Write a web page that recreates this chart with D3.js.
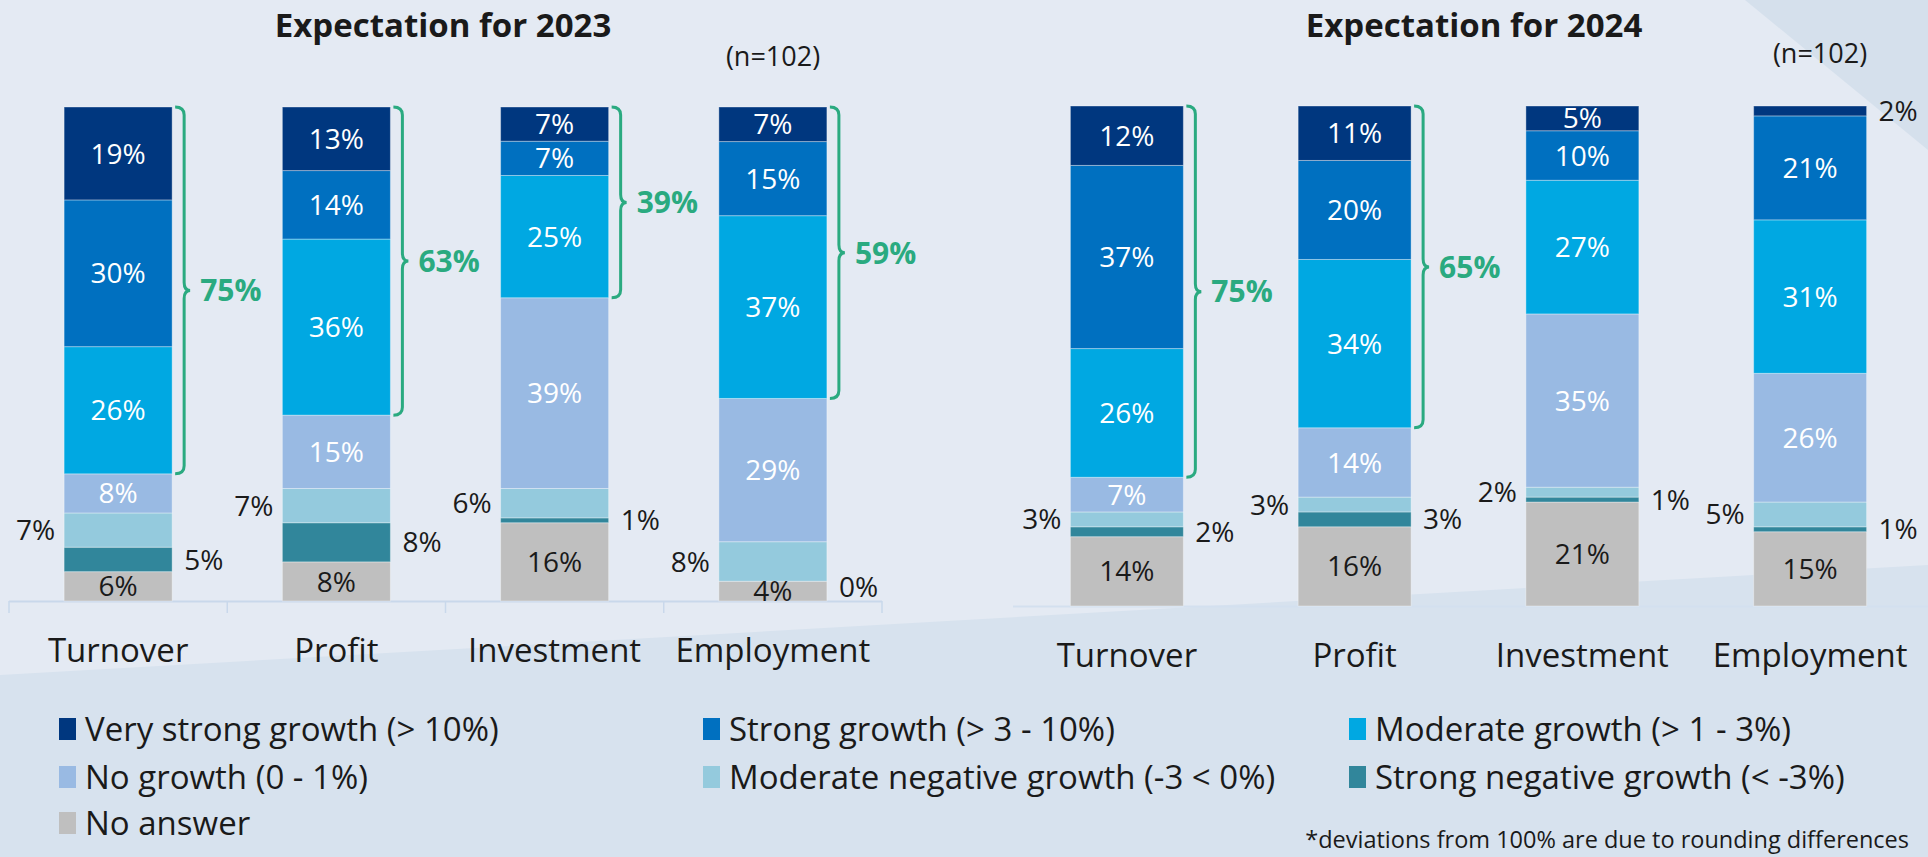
<!DOCTYPE html>
<html lang="en">

<head>
	<meta charset="utf-8">
	<title>Expectation for 2023 / 2024</title>
	<script src="https://d3js.org/d3.v7.min.js"></script>
	<style>
		body {
			margin: 0;
			background: #e4eaf3;
			font-family: "Open Sans", "Noto Sans", sans-serif;
		}

		svg text {
			font-family: "Open Sans", "Noto Sans", sans-serif;
		}
	</style>
</head>

<body>
	<script>
		// chart data
		var categories = ["Turnover", "Profit", "Investment", "Employment"];

		var seriesNames = [
			"Very strong growth (> 10%)",
			"Strong growth (> 3 - 10%)",
			"Moderate growth (> 1 - 3%)",
			"No growth (0 - 1%)",
			"Moderate negative growth (-3 < 0%)",
			"Strong negative growth (< -3%)",
			"No answer"
		];
		var seriesKeys = ["veryStrong", "strong", "moderate", "noGrowth", "modNeg", "strongNeg", "noAnswer"];
		var seriesColors = ["#00377f", "#0070c0", "#00a8e2", "#99bae3", "#94cadd", "#31869b", "#bfbfbf"];

		// values per category (Turnover, Profit, Investment, Employment)
		var veryStrong2023 = [19, 13, 7, 7];
		var strong2023 = [30, 14, 7, 15];
		var moderate2023 = [26, 36, 25, 37];
		var noGrowth2023 = [8, 15, 39, 29];
		var modNeg2023 = [7, 7, 6, 8];
		var strongNeg2023 = [5, 8, 1, 0];
		var noAnswer2023 = [6, 8, 16, 4];
		var growthTotal2023 = [75, 63, 39, 59];

		var veryStrong2024 = [12, 11, 5, 2];
		var strong2024 = [37, 20, 10, 21];
		var moderate2024 = [26, 34, 27, 31];
		var noGrowth2024 = [7, 14, 35, 26];
		var modNeg2024 = [3, 3, 2, 5];
		var strongNeg2024 = [2, 3, 1, 1];
		var noAnswer2024 = [14, 16, 21, 15];
		var growthTotal2024 = [75, 65, null, null];

		var green = "#2aaa80";

		function buildRows(lists) {
			return categories.map(function (c, i) {
				var row = { category: c };
				seriesKeys.forEach(function (k, j) {
					row[k] = lists[j][i];
				});
				return row;
			});
		}

		var rows2023 = buildRows([veryStrong2023, strong2023, moderate2023, noGrowth2023, modNeg2023, strongNeg2023, noAnswer2023]);
		var rows2024 = buildRows([veryStrong2024, strong2024, moderate2024, noGrowth2024, modNeg2024, strongNeg2024, noAnswer2024]);

		var W = 1928, H = 857;

		var svg = d3.select("body")
			.append("svg")
			.attr("width", W)
			.attr("height", H);

		// background shapes
		svg.append("rect").attr("width", W).attr("height", H).attr("fill", "#e4eaf3");
		svg.append("path")
			.attr("d", "M0,675 L1928,565 L1928,857 L0,857 Z")
			.attr("fill", "#d7e2ee");
		svg.append("path")
			.attr("d", "M1745,0 L1928,0 L1928,150 Z")
			.attr("fill", "#d5e0ec");

		// stack order: bottom (no answer) to top (very strong growth)
		var stack = d3.stack()
			.keys(seriesKeys.slice().reverse())
			.offset(d3.stackOffsetExpand);

		function drawPanel(opts) {
			var g = svg.append("g");
			var layers = stack(opts.rows);

			var x = d3.scaleBand()
				.domain(categories)
				.range(opts.xRange)
				.paddingInner(opts.pad)
				.paddingOuter(opts.pad / 2);

			var y = d3.scaleLinear()
				.domain([0, 1])
				.range([opts.bottom, opts.top]);

			// baseline axis
			g.append("line")
				.attr("x1", opts.xRange[0])
				.attr("x2", opts.lineEnd)
				.attr("y1", opts.bottom + 0.5)
				.attr("y2", opts.bottom + 0.5)
				.attr("stroke", opts.lineColor)
				.attr("stroke-width", 2);

			if (opts.ticks) {
				var step = x.step();
				d3.range(categories.length + 1).forEach(function (i) {
					var tx = opts.xRange[0] + i * step;
					g.append("line")
						.attr("x1", tx).attr("x2", tx)
						.attr("y1", opts.bottom).attr("y2", opts.bottom + 12)
						.attr("stroke", opts.lineColor)
						.attr("stroke-width", 1.5);
				});
			}

			// segments
			var layerG = g.selectAll(".layer")
				.data(layers)
				.enter()
				.append("g")
				.attr("fill", function (d) {
					return seriesColors[seriesKeys.indexOf(d.key)];
				});

			layerG.selectAll("rect")
				.data(function (d) { return d; })
				.enter()
				.append("rect")
				.attr("x", function (d) { return x(d.data.category); })
				.attr("width", x.bandwidth())
				.attr("y", function (d) { return y(d[1]); })
				.attr("height", function (d) { return y(d[0]) - y(d[1]); })
				.attr("stroke", "rgba(255,255,255,0.35)")
				.attr("stroke-width", 1);

			// value labels
			layers.forEach(function (layer) {
				var key = layer.key;
				layer.forEach(function (d) {
					var v = d.data[key];
					var cy = (y(d[0]) + y(d[1])) / 2;
					var left = x(d.data.category);
					var right = left + x.bandwidth();
					var tx, anchor, fill;
					if (key === "modNeg") {
						tx = left - 9; anchor = "end"; fill = "#1a1a1a";
					} else if (key === "strongNeg" || v <= 2) {
						tx = right + 12; anchor = "start"; fill = "#1a1a1a";
						if (v === 0) cy += 6; // keep zero label clear of the bar edge
					} else {
						tx = left + x.bandwidth() / 2; anchor = "middle";
						fill = key === "noAnswer" ? "#1a1a1a" : "#ffffff";
					}
					g.append("text")
						.attr("x", tx)
						.attr("y", cy)
						.attr("dy", "0.36em")
						.attr("text-anchor", anchor)
						.attr("fill", fill)
						.style("font-size", "28px")
						.text(v + "%");
				});
			});

			// curly brackets for total growth
			var topLayer = layers.find(function (l) { return l.key === "veryStrong"; });
			var modLayer = layers.find(function (l) { return l.key === "moderate"; });
			categories.forEach(function (c, i) {
				var total = opts.growth[i];
				if (total === null) return;
				var y0 = y(topLayer[i][1]);
				var y1 = y(modLayer[i][0]);
				var ym = (y0 + y1) / 2;
				var bx = x(c) + x.bandwidth();
				var x0 = bx + 3, x1 = bx + 12, r = 8, p = 6;
				var path = "M" + x0 + "," + y0 +
					" Q" + x1 + "," + y0 + " " + x1 + "," + (y0 + r) +
					" L" + x1 + "," + (ym - r) +
					" Q" + x1 + "," + ym + " " + (x1 + p) + "," + ym +
					" Q" + x1 + "," + ym + " " + x1 + "," + (ym + r) +
					" L" + x1 + "," + (y1 - r) +
					" Q" + x1 + "," + y1 + " " + x0 + "," + y1;
				g.append("path")
					.attr("d", path)
					.attr("fill", "none")
					.attr("stroke", green)
					.attr("stroke-width", 3);
				g.append("text")
					.attr("x", bx + 28)
					.attr("y", ym)
					.attr("dy", "0.36em")
					.attr("fill", green)
					.style("font-size", "30px")
					.style("font-weight", "bold")
					.text(total + "%");
			});

			// category labels
			g.selectAll(".cat")
				.data(categories)
				.enter()
				.append("text")
				.attr("x", function (d) { return x(d) + x.bandwidth() / 2; })
				.attr("y", opts.catY)
				.attr("text-anchor", "middle")
				.attr("fill", "#1a1a1a")
				.style("font-size", "33px")
				.text(function (d) { return d; });

			// title and sample size
			g.append("text")
				.attr("x", opts.titleX)
				.attr("y", 37)
				.attr("text-anchor", "middle")
				.attr("fill", "#1a1a1a")
				.style("font-size", "33px")
				.style("font-weight", "bold")
				.text(opts.title);

			g.append("text")
				.attr("x", opts.nX)
				.attr("y", opts.nY)
				.attr("text-anchor", "middle")
				.attr("fill", "#1a1a1a")
				.style("font-size", "27px")
				.text("(n=102)");
		}

		drawPanel({
			rows: rows2023, growth: growthTotal2023,
			xRange: [9, 882], lineEnd: 882, pad: 0.505, ticks: true, lineColor: "#c9d8eb",
			top: 107, bottom: 601, catY: 662,
			title: "Expectation for 2023", titleX: 443, nX: 773, nY: 66
		});

		drawPanel({
			rows: rows2024, growth: growthTotal2024,
			xRange: [1013, 1924], lineEnd: 1928, pad: 0.504, ticks: false, lineColor: "#d3e0ef",
			top: 106, bottom: 606, catY: 667,
			title: "Expectation for 2024", titleX: 1474, nX: 1820, nY: 63
		});

		// legend
		var legendX = [59, 703, 1349];
		var legendY = [729, 777, 823];

		var legend = svg.append("g");
		seriesNames.forEach(function (name, i) {
			var lx = legendX[i % 3];
			var ly = legendY[Math.floor(i / 3)];
			legend.append("rect")
				.attr("x", lx)
				.attr("y", ly - 11)
				.attr("width", 17)
				.attr("height", 22)
				.attr("fill", seriesColors[i]);
			legend.append("text")
				.attr("x", lx + 26)
				.attr("y", ly)
				.attr("dy", "0.36em")
				.attr("fill", "#1a1a1a")
				.style("font-size", "33px")
				.text(name);
		});

		svg.append("text")
			.attr("x", 1909)
			.attr("y", 848)
			.attr("text-anchor", "end")
			.attr("fill", "#1a1a1a")
			.style("font-size", "23.5px")
			.text("*deviations from 100% are due to rounding differences");
	</script>
</body>

</html>
